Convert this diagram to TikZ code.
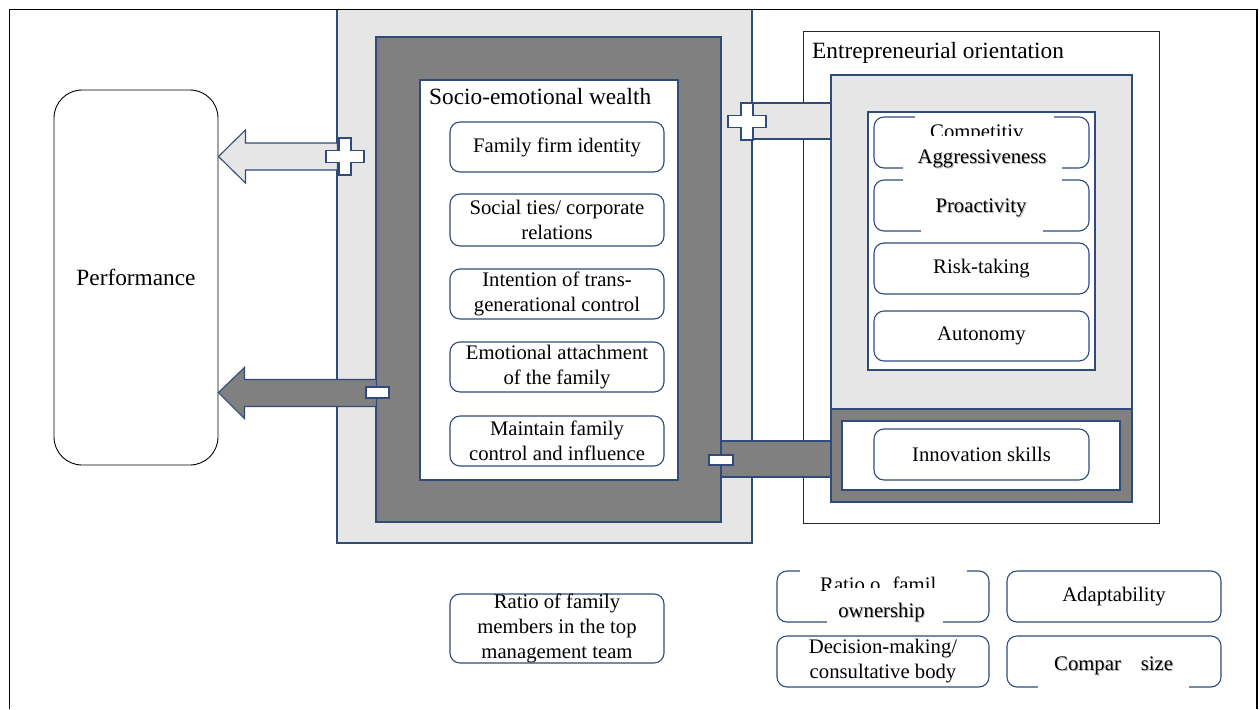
\documentclass[tikz,border=0pt]{standalone}
\usepackage{fontspec}
\setmainfont{Liberation Serif}
\usetikzlibrary{calc}
\definecolor{navy}{HTML}{2F4B7C}
\definecolor{paleg}{HTML}{E6E6E6}
\definecolor{midg}{HTML}{808080}
\newcommand\itemsize{\fontsize{20.7}{25}\selectfont}
\newcommand\headsize{\fontsize{23.3}{28}\selectfont}

\begin{document}
\begin{tikzpicture}[x=1pt,y=-1pt,
  panel/.style={draw=navy,line width=1.1pt},
  item/.style={draw=navy,line width=1.1pt,rounded corners=10pt,fill=white,inner sep=0pt,
    align=center,font=\itemsize,minimum width=214pt,minimum height=50pt},
  heading/.style={anchor=base west,inner sep=0pt,font=\headsize},
  word/.style={anchor=base,inner sep=0pt,font=\itemsize},
  wordshadow/.style={word,text=black!28},
  patch/.style={fill=white},
  signbox/.style={draw=navy,fill=white,line width=1.1pt,inner sep=0pt},
  plussign/.pic={
    \draw[navy,fill=white,line width=1.1pt]
      (-6,-18.5) -- (6,-18.5) -- (6,-6) -- (19,-6) -- (19,6) -- (6,6) -- (6,18.5)
      -- (-6,18.5) -- (-6,6) -- (-19,6) -- (-19,-6) -- (-6,-6) -- cycle;}
]
\useasboundingbox (0,0) rectangle (1260,709);

% ---------- socio-emotional wealth block ----------
\draw[panel,fill=paleg] (337,9.5) rectangle (752,543);
\draw[panel,fill=midg] (376,37) rectangle (721,522);
\draw[panel,fill=white] (420,80) rectangle (678,480);
\node[heading] (sewtitle) at (429,104) {Socio-emotional wealth};
\node[item] (ffi) at (557,147) {Family firm identity};
\node[item,minimum height=52pt] (ties) at (557,220) {Social ties/ corporate\\relations};
\node[item] (trans) at (557,294) {Intention of trans-\\generational control};
\node[item] (attach) at (557,367) {Emotional attachment\\of the family};
\node[item] (ctrl) at (557,441) {Maintain family\\control and influence};

% ---------- entrepreneurial orientation block ----------
\draw[line width=0.8pt,draw=black!85,fill=white] (803,31) rectangle (1159,523);
\node[heading] (eotitle) at (812,59) {Entrepreneurial orientation};
\draw[panel,fill=paleg] (831,75) rectangle (1132,409);
\draw[panel,fill=white] (868,112) rectangle (1095,370);
\node[item,minimum width=215pt,minimum height=51pt] (comp) at (981.5,142.5) {};
\node[item,minimum width=215pt,minimum height=51pt] (proact) at (981.5,205.5) {};
\node[item,minimum width=215pt,minimum height=51pt] (risk) at (981.5,268.5) {Risk-taking};
\node[item,minimum width=215pt,minimum height=50pt] (auton) at (981.5,336) {Autonomy};

% text boxes laid over the first two items
\fill[patch] (915,113) rectangle (1054,136);
\node[word,anchor=base west] (compA) at (930,138.5) {Competitiv};
\fill[patch] (903,136) rectangle (1062,172);
\node[wordshadow] at (983,164.3) {Aggressiveness};
\node[word] (compB) at (982,163) {Aggressiveness};
\fill[patch] (903,174) rectangle (1062,195);
\fill[patch] (921,195) rectangle (1043,236);
\node[wordshadow] at (982,213.8) {Proactivity};
\node[word] (proactT) at (981,212.5) {Proactivity};

\draw[panel,fill=midg] (831,409) rectangle (1132,502);
\draw[panel,fill=white] (842,421) rectangle (1120,490);
\node[item,minimum width=215pt,minimum height=51pt] (innov) at (981.5,454.5) {Innovation skills};

% ---------- links between the two blocks ----------
\draw[panel,fill=paleg] (753,103) rectangle (831,139);
\pic (plusR) at (747,121.5) {plussign};
\draw[panel,fill=midg] (721,441) rectangle (831,477);
\node[signbox,minimum width=24pt,minimum height=10pt] (minusR) at (721,460) {};

% ---------- performance and its two block arrows ----------
\node[draw=black,line width=0.9pt,rounded corners=28pt,minimum width=164pt,
      minimum height=375pt,font=\headsize] (perf) at (136,277.5) {Performance};
\coordinate (plusL) at (345,156.5);
\draw[panel,fill=paleg] (perf.east |- plusL) -- ++(27,-26.5) -- ++(0,13) -- ++(92,0)
  -- ++(0,27) -- ++(-92,0) -- ++(0,13) -- cycle;
\pic at (plusL) {plussign};
\node[signbox,minimum width=23pt,minimum height=11pt] (minusL) at (377.5,392.5) {};
\draw[panel,fill=midg] (perf.east |- minusL) -- ++(26,-25) -- ++(0,12) -- ++(132,0)
  -- ++(0,27) -- ++(-132,0) -- ++(0,12) -- cycle;
\node[signbox,minimum width=23pt,minimum height=11pt] at (minusL) {};

% ---------- control variables ----------
\node[item,minimum height=65pt] (tmt) at (557,628.5) {Ratio of family\\members in the top\\management team};
\node[item,minimum width=212pt,minimum height=51pt] (own) at (883,596.5) {};
\fill[patch] (800,566) rectangle (967,588);
\node[word,anchor=base west] (ownA) at (820,591) {Ratio o\hspace{12pt}famil};
\fill[patch] (827,588) rectangle (943,627);
\node[wordshadow] at (882.5,618.3) {ownership};
\node[word] (ownB) at (881.5,617) {ownership};
\node[item,minimum height=51pt] (adapt) at (1114,596.5) {Adaptability};
\node[item,minimum width=212pt,minimum height=51pt] (decis) at (883,661.5) {Decision-making/\\consultative body};
\node[item,minimum height=51pt] (csize) at (1114,661.5) {};
\fill[patch] (1038,650) rectangle (1189,692);
\node[wordshadow,anchor=base west] at (1055,671.3) {Compar\hspace{20pt}size};
\node[word,anchor=base west] (csizeT) at (1054,670) {Compar\hspace{20pt}size};

% ---------- outer frame ----------
\draw[line width=1.6pt] (9.5,709) -- (9.5,9.5) -- (1257,9.5) -- (1257,709);
\end{tikzpicture}
\end{document}
